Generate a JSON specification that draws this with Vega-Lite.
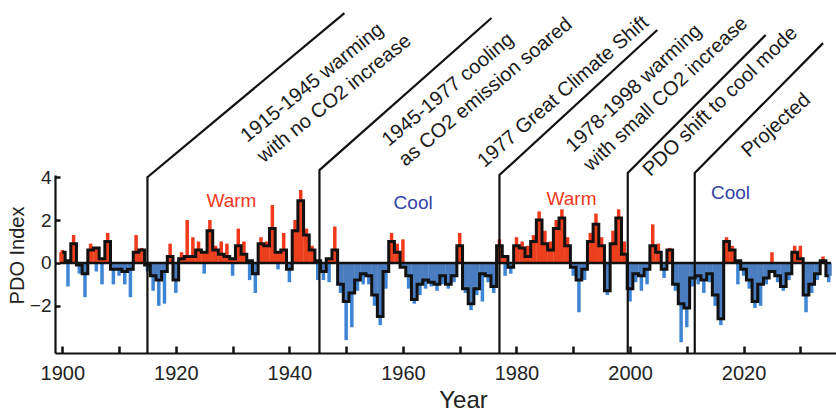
{
  "$schema": "https://vega.github.io/schema/vega-lite/v6.json",
  "width": 781,
  "height": 178,
  "autosize": {"type": "none"},
  "padding": {"left": 55, "top": 175, "right": 0, "bottom": 61},
  "background": "white",
  "config": {
    "view": {"stroke": null},
    "font": "Liberation Sans",
    "axis": {"grid": false, "domainColor": "#111", "domainWidth": 2.2, "tickColor": "#111", "tickWidth": 2.5, "labelFont": "Liberation Sans", "labelColor": "#222", "titleFont": "Liberation Sans", "titleColor": "#222", "titleFontWeight": "normal"}
  },
  "datasets": {
    "pdo": [
      {"year":1900,"pdo":0.5,"ext":0.6},{"year":1901,"pdo":0.1,"ext":-1.1},{"year":1902,"pdo":0.9,"ext":1.3},{"year":1903,"pdo":-0.1,"ext":-0.5},{"year":1904,"pdo":-0.5,"ext":-1.6},
      {"year":1905,"pdo":0.6,"ext":0.9},{"year":1906,"pdo":0.7,"ext":-0.4},{"year":1907,"pdo":0.2,"ext":-1.0},{"year":1908,"pdo":1.0,"ext":1.4},{"year":1909,"pdo":-0.3,"ext":-1.0},
      {"year":1910,"pdo":-0.3,"ext":-0.6},{"year":1911,"pdo":-0.4,"ext":-1.0},{"year":1912,"pdo":-0.3,"ext":-1.6},{"year":1913,"pdo":0.5,"ext":1.3},{"year":1914,"pdo":0.6,"ext":0.7},
      {"year":1915,"pdo":-0.1,"ext":-0.4},{"year":1916,"pdo":-0.6,"ext":-1.3},{"year":1917,"pdo":-0.8,"ext":-2.0},{"year":1918,"pdo":-0.4,"ext":-1.9},{"year":1919,"pdo":0.3,"ext":0.9},
      {"year":1920,"pdo":-0.8,"ext":-1.4},{"year":1921,"pdo":0.2,"ext":0.5},{"year":1922,"pdo":0.3,"ext":2.0},{"year":1923,"pdo":0.3,"ext":1.2},{"year":1924,"pdo":0.6,"ext":1.0},
      {"year":1925,"pdo":0.5,"ext":-0.5},{"year":1926,"pdo":1.5,"ext":2.0},{"year":1927,"pdo":0.6,"ext":0.8},{"year":1928,"pdo":0.4,"ext":1.0},{"year":1929,"pdo":0.3,"ext":0.9},
      {"year":1930,"pdo":0.2,"ext":-0.6},{"year":1931,"pdo":0.8,"ext":1.6},{"year":1932,"pdo":0.4,"ext":1.0},{"year":1933,"pdo":0.1,"ext":-0.8},{"year":1934,"pdo":-0.5,"ext":-1.4},
      {"year":1935,"pdo":0.9,"ext":1.2},{"year":1936,"pdo":0.8,"ext":1.0},{"year":1937,"pdo":1.6,"ext":2.7},{"year":1938,"pdo":0.5,"ext":-0.3},{"year":1939,"pdo":0.6,"ext":1.4},
      {"year":1940,"pdo":-0.3,"ext":-0.9},{"year":1941,"pdo":1.5,"ext":2.0},{"year":1942,"pdo":2.9,"ext":3.4},{"year":1943,"pdo":1.3,"ext":1.6},{"year":1944,"pdo":0.6,"ext":0.8},
      {"year":1945,"pdo":0.1,"ext":-0.8},{"year":1946,"pdo":-0.4,"ext":-0.8},{"year":1947,"pdo":0.2,"ext":-0.9},{"year":1948,"pdo":0.6,"ext":1.7},{"year":1949,"pdo":-1.0,"ext":-1.4},
      {"year":1950,"pdo":-1.8,"ext":-3.6},{"year":1951,"pdo":-1.4,"ext":-3.0},{"year":1952,"pdo":-0.8,"ext":-1.3},{"year":1953,"pdo":-0.5,"ext":-1.0},{"year":1954,"pdo":-0.6,"ext":-1.0},
      {"year":1955,"pdo":-1.5,"ext":-2.0},{"year":1956,"pdo":-2.5,"ext":-2.9},{"year":1957,"pdo":-0.4,"ext":-1.2},{"year":1958,"pdo":1.0,"ext":1.4},{"year":1959,"pdo":0.5,"ext":0.9},
      {"year":1960,"pdo":-0.2,"ext":1.1},{"year":1961,"pdo":-0.6,"ext":-1.2},{"year":1962,"pdo":-1.7,"ext":-1.9},{"year":1963,"pdo":-1.0,"ext":-1.5},{"year":1964,"pdo":-0.8,"ext":-1.2},
      {"year":1965,"pdo":-0.9,"ext":-1.1},{"year":1966,"pdo":-1.0,"ext":-1.3},{"year":1967,"pdo":-0.6,"ext":-1.0},{"year":1968,"pdo":-1.0,"ext":-1.2},{"year":1969,"pdo":-0.6,"ext":-0.9},
      {"year":1970,"pdo":0.8,"ext":1.4},{"year":1971,"pdo":-1.2,"ext":-1.4},{"year":1972,"pdo":-1.9,"ext":-2.2},{"year":1973,"pdo":-1.2,"ext":-1.5},{"year":1974,"pdo":-0.5,"ext":-1.8},
      {"year":1975,"pdo":-0.6,"ext":-0.9},{"year":1976,"pdo":-1.1,"ext":-1.4},{"year":1977,"pdo":0.8,"ext":1.1},{"year":1978,"pdo":0.3,"ext":-0.6},{"year":1979,"pdo":-0.2,"ext":-0.5},
      {"year":1980,"pdo":0.8,"ext":1.2},{"year":1981,"pdo":0.7,"ext":1.0},{"year":1982,"pdo":0.3,"ext":0.8},{"year":1983,"pdo":1.0,"ext":1.3},{"year":1984,"pdo":2.0,"ext":2.4},
      {"year":1985,"pdo":0.9,"ext":1.5},{"year":1986,"pdo":0.6,"ext":1.0},{"year":1987,"pdo":1.6,"ext":2.0},{"year":1988,"pdo":2.1,"ext":2.5},{"year":1989,"pdo":0.8,"ext":1.2},
      {"year":1990,"pdo":-0.2,"ext":-0.6},{"year":1991,"pdo":-0.8,"ext":-2.3},{"year":1992,"pdo":-0.3,"ext":-0.8},{"year":1993,"pdo":1.0,"ext":1.4},{"year":1994,"pdo":1.8,"ext":2.3},
      {"year":1995,"pdo":0.8,"ext":1.2},{"year":1996,"pdo":-1.3,"ext":-1.5},{"year":1997,"pdo":0.9,"ext":1.5},{"year":1998,"pdo":2.1,"ext":2.5},{"year":1999,"pdo":0.4,"ext":1.0},
      {"year":2000,"pdo":-1.2,"ext":-1.8},{"year":2001,"pdo":-0.5,"ext":-0.9},{"year":2002,"pdo":-0.6,"ext":-1.3},{"year":2003,"pdo":-0.3,"ext":-1.0},{"year":2004,"pdo":0.8,"ext":1.8},
      {"year":2005,"pdo":0.5,"ext":0.9},{"year":2006,"pdo":-0.3,"ext":-0.7},{"year":2007,"pdo":0.6,"ext":0.7},{"year":2008,"pdo":-1.0,"ext":-1.3},{"year":2009,"pdo":-1.9,"ext":-3.7},
      {"year":2010,"pdo":-2.1,"ext":-3.0},{"year":2011,"pdo":-0.7,"ext":-1.1},{"year":2012,"pdo":-0.6,"ext":-1.0},{"year":2013,"pdo":-0.8,"ext":-1.4},{"year":2014,"pdo":-0.5,"ext":-0.9},
      {"year":2015,"pdo":-1.5,"ext":-2.0},{"year":2016,"pdo":-2.6,"ext":-2.9},{"year":2017,"pdo":1.0,"ext":1.2},{"year":2018,"pdo":0.6,"ext":0.8},{"year":2019,"pdo":0.1,"ext":-1.0},
      {"year":2020,"pdo":-0.3,"ext":-0.6},{"year":2021,"pdo":-0.8,"ext":-1.2},{"year":2022,"pdo":-1.8,"ext":-2.1},{"year":2023,"pdo":-1.0,"ext":-2.0},{"year":2024,"pdo":-0.7,"ext":-1.0},
      {"year":2025,"pdo":-0.4,"ext":0.5},{"year":2026,"pdo":-0.6,"ext":-0.9},{"year":2027,"pdo":-1.1,"ext":-1.3},{"year":2028,"pdo":-0.5,"ext":-0.8},{"year":2029,"pdo":0.5,"ext":0.8},
      {"year":2030,"pdo":0.2,"ext":0.8},{"year":2031,"pdo":-1.5,"ext":-2.3},{"year":2032,"pdo":-1.0,"ext":-1.4},{"year":2033,"pdo":-0.5,"ext":-0.8},{"year":2034,"pdo":0.1,"ext":0.3},
      {"year":2035,"pdo":-0.6,"ext":-0.9}
    ],
    "paths": [
      {"id":1,"k":1,"year":1915,"value":-4.2},{"id":1,"k":2,"year":1915,"value":4.0},{"id":1,"k":3,"year":1949.7,"value":11.65},
      {"id":2,"k":1,"year":1945.3,"value":-4.2},{"id":2,"k":2,"year":1945.3,"value":4.33},{"id":2,"k":3,"year":1975.6,"value":11.42},
      {"id":3,"k":1,"year":1977,"value":-4.2},{"id":3,"k":2,"year":1977,"value":4.1},{"id":3,"k":3,"year":2004.8,"value":10.86},
      {"id":4,"k":1,"year":1999.6,"value":-4.2},{"id":4,"k":2,"year":1999.6,"value":4.19},{"id":4,"k":3,"year":2023.9,"value":10.63},
      {"id":5,"k":1,"year":2011.4,"value":-4.2},{"id":5,"k":2,"year":2011.4,"value":4.19},{"id":5,"k":3,"year":2034.0,"value":10.25}
    ],
    "phases": [
      {"year":1929.8,"value":2.89,"label":"Warm","kind":"warm"},
      {"year":1961.8,"value":2.79,"label":"Cool","kind":"cool"},
      {"year":1989.7,"value":2.98,"label":"Warm","kind":"warm"},
      {"year":2017.7,"value":3.26,"label":"Cool","kind":"cool"}
    ],
    "notes": [
      {"n":1,"year":1932.6,"value":5.59},
      {"n":2,"year":1957.5,"value":5.4},
      {"n":3,"year":1974.35,"value":4.42},
      {"n":4,"year":1990.0,"value":5.13},
      {"n":5,"year":2003.6,"value":4.0},
      {"n":6,"year":2020.9,"value":4.89}
    ],
    "zero": [
      {"year":1899.6,"value":0},{"year":2035.4,"value":0}
    ]
  },
  "encoding": {
    "x": {"field": "year", "type": "quantitative", "scale": {"domain": [1899.6, 2035.4], "nice": false, "zero": false},
          "axis": {"values": [1900,1910,1920,1930,1940,1950,1960,1970,1980,1990,2000,2010,2020,2030], "format": "d", "labelExpr": "datum.value % 20 == 0 ? datum.label : ''", "labelFlush": false, "labelOverlap": false, "tickSize": -7, "labelPadding": 17, "labelFontSize": 20, "labelBaseline": "top", "title": "Year", "titleFontSize": 24, "titleX": 408, "titleY": 54, "titleBaseline": "alphabetic", "titleAnchor": "start", "titleAlign": "center"}}
  },
  "layer": [
    {
      "data": {"name": "pdo"},
      "mark": {"type": "bar", "width": 3.5},
      "encoding": {
        "y": {"field": "ext", "type": "quantitative", "scale": {"domain": [-4.2, 4.1], "nice": false, "zero": false},
              "axis": {"values": [-2, 0, 2, 4], "tickSize": -5, "labelPadding": 9, "labelFontSize": 19, "title": "PDO Index", "titleFontSize": 20, "titleAngle": -90, "titleX": -38, "titleY": 80, "titleBaseline": "middle", "titleAlign": "center"}},
        "color": {"condition": {"test": "datum.ext > 0", "value": "#f2391c"}, "value": "#3f85d6"}
      }
    },
    {
      "data": {"name": "pdo"},
      "mark": {"type": "bar", "width": 6},
      "encoding": {
        "y": {"field": "pdo", "type": "quantitative", "scale": {"domain": [-4.2, 4.1], "nice": false, "zero": false},
              "axis": {"values": [-2, 0, 2, 4], "tickSize": -5, "labelPadding": 9, "labelFontSize": 19, "title": "PDO Index", "titleFontSize": 20, "titleAngle": -90, "titleX": -38, "titleY": 80, "titleBaseline": "middle", "titleAlign": "center"}},
        "color": {"condition": {"test": "datum.pdo > 0", "value": "#ec3f1d"}, "value": "#4a7cc0"}
      }
    },
    {
      "data": {"name": "pdo"},
      "mark": {"type": "line", "interpolate": "step", "color": "#111", "strokeWidth": 3},
      "encoding": {
        "y": {"field": "pdo", "type": "quantitative", "scale": {"domain": [-4.2, 4.1], "nice": false, "zero": false},
              "axis": {"values": [-2, 0, 2, 4], "tickSize": -5, "labelPadding": 9, "labelFontSize": 19, "title": "PDO Index", "titleFontSize": 20, "titleAngle": -90, "titleX": -38, "titleY": 80, "titleBaseline": "middle", "titleAlign": "center"}}
      }
    },
    {
      "data": {"name": "zero"},
      "mark": {"type": "line", "color": "#111", "strokeWidth": 2.5},
      "encoding": {
        "y": {"field": "value", "type": "quantitative", "scale": {"domain": [-4.2, 4.1], "nice": false, "zero": false},
              "axis": {"values": [-2, 0, 2, 4], "tickSize": -5, "labelPadding": 9, "labelFontSize": 19, "title": "PDO Index", "titleFontSize": 20, "titleAngle": -90, "titleX": -38, "titleY": 80, "titleBaseline": "middle", "titleAlign": "center"}}
      }
    },
    {
      "data": {"name": "paths"},
      "mark": {"type": "line", "color": "#111", "strokeWidth": 2.2, "clip": false},
      "encoding": {
        "y": {"field": "value", "type": "quantitative", "scale": {"domain": [-4.2, 4.1], "nice": false, "zero": false},
              "axis": {"values": [-2, 0, 2, 4], "tickSize": -5, "labelPadding": 9, "labelFontSize": 19, "title": "PDO Index", "titleFontSize": 20, "titleAngle": -90, "titleX": -38, "titleY": 80, "titleBaseline": "middle", "titleAlign": "center"}},
        "detail": {"field": "id"},
        "order": {"field": "k"}
      }
    },
    {
      "data": {"name": "phases"},
      "mark": {"type": "text", "fontSize": 19, "align": "center", "baseline": "middle"},
      "encoding": {
        "y": {"field": "value", "type": "quantitative", "scale": {"domain": [-4.2, 4.1], "nice": false, "zero": false},
              "axis": {"values": [-2, 0, 2, 4], "tickSize": -5, "labelPadding": 9, "labelFontSize": 19, "title": "PDO Index", "titleFontSize": 20, "titleAngle": -90, "titleX": -38, "titleY": 80, "titleBaseline": "middle", "titleAlign": "center"}},
        "text": {"field": "label"},
        "color": {"condition": {"test": "datum.kind == 'warm'", "value": "#ee3823"}, "value": "#3343a6"}
      }
    },
    {
      "data": {"name": "notes"},
      "transform": [{"filter": "datum.n == 1"}],
      "mark": {"type": "text", "text": ["1915-1945 warming", "with no CO2 increase"], "angle": -39, "align": "left", "baseline": "alphabetic", "fontSize": 20, "lineHeight": 26, "color": "#1a1a1a"},
      "encoding": {
        "y": {"field": "value", "type": "quantitative", "scale": {"domain": [-4.2, 4.1], "nice": false, "zero": false},
              "axis": {"values": [-2, 0, 2, 4], "tickSize": -5, "labelPadding": 9, "labelFontSize": 19, "title": "PDO Index", "titleFontSize": 20, "titleAngle": -90, "titleX": -38, "titleY": 80, "titleBaseline": "middle", "titleAlign": "center"}}
      }
    },
    {
      "data": {"name": "notes"},
      "transform": [{"filter": "datum.n == 2"}],
      "mark": {"type": "text", "text": ["1945-1977 cooling", "as CO2 emission soared"], "angle": -40, "align": "left", "baseline": "alphabetic", "fontSize": 20, "lineHeight": 26, "color": "#1a1a1a"},
      "encoding": {
        "y": {"field": "value", "type": "quantitative", "scale": {"domain": [-4.2, 4.1], "nice": false, "zero": false},
              "axis": {"values": [-2, 0, 2, 4], "tickSize": -5, "labelPadding": 9, "labelFontSize": 19, "title": "PDO Index", "titleFontSize": 20, "titleAngle": -90, "titleX": -38, "titleY": 80, "titleBaseline": "middle", "titleAlign": "center"}}
      }
    },
    {
      "data": {"name": "notes"},
      "transform": [{"filter": "datum.n == 3"}],
      "mark": {"type": "text", "text": "1977 Great Climate Shift", "angle": -41, "align": "left", "baseline": "alphabetic", "fontSize": 20, "color": "#1a1a1a"},
      "encoding": {
        "y": {"field": "value", "type": "quantitative", "scale": {"domain": [-4.2, 4.1], "nice": false, "zero": false},
              "axis": {"values": [-2, 0, 2, 4], "tickSize": -5, "labelPadding": 9, "labelFontSize": 19, "title": "PDO Index", "titleFontSize": 20, "titleAngle": -90, "titleX": -38, "titleY": 80, "titleBaseline": "middle", "titleAlign": "center"}}
      }
    },
    {
      "data": {"name": "notes"},
      "transform": [{"filter": "datum.n == 4"}],
      "mark": {"type": "text", "text": ["1978-1998 warming", "with small CO2 increase"], "angle": -43, "align": "left", "baseline": "alphabetic", "fontSize": 20, "lineHeight": 26, "color": "#1a1a1a"},
      "encoding": {
        "y": {"field": "value", "type": "quantitative", "scale": {"domain": [-4.2, 4.1], "nice": false, "zero": false},
              "axis": {"values": [-2, 0, 2, 4], "tickSize": -5, "labelPadding": 9, "labelFontSize": 19, "title": "PDO Index", "titleFontSize": 20, "titleAngle": -90, "titleX": -38, "titleY": 80, "titleBaseline": "middle", "titleAlign": "center"}}
      }
    },
    {
      "data": {"name": "notes"},
      "transform": [{"filter": "datum.n == 5"}],
      "mark": {"type": "text", "text": "PDO shift to cool mode", "angle": -44, "align": "left", "baseline": "alphabetic", "fontSize": 20, "color": "#1a1a1a"},
      "encoding": {
        "y": {"field": "value", "type": "quantitative", "scale": {"domain": [-4.2, 4.1], "nice": false, "zero": false},
              "axis": {"values": [-2, 0, 2, 4], "tickSize": -5, "labelPadding": 9, "labelFontSize": 19, "title": "PDO Index", "titleFontSize": 20, "titleAngle": -90, "titleX": -38, "titleY": 80, "titleBaseline": "middle", "titleAlign": "center"}}
      }
    },
    {
      "data": {"name": "notes"},
      "transform": [{"filter": "datum.n == 6"}],
      "mark": {"type": "text", "text": "Projected", "angle": -42, "align": "left", "baseline": "alphabetic", "fontSize": 20, "color": "#1a1a1a"},
      "encoding": {
        "y": {"field": "value", "type": "quantitative", "scale": {"domain": [-4.2, 4.1], "nice": false, "zero": false},
              "axis": {"values": [-2, 0, 2, 4], "tickSize": -5, "labelPadding": 9, "labelFontSize": 19, "title": "PDO Index", "titleFontSize": 20, "titleAngle": -90, "titleX": -38, "titleY": 80, "titleBaseline": "middle", "titleAlign": "center"}}
      }
    }
  ]
}
